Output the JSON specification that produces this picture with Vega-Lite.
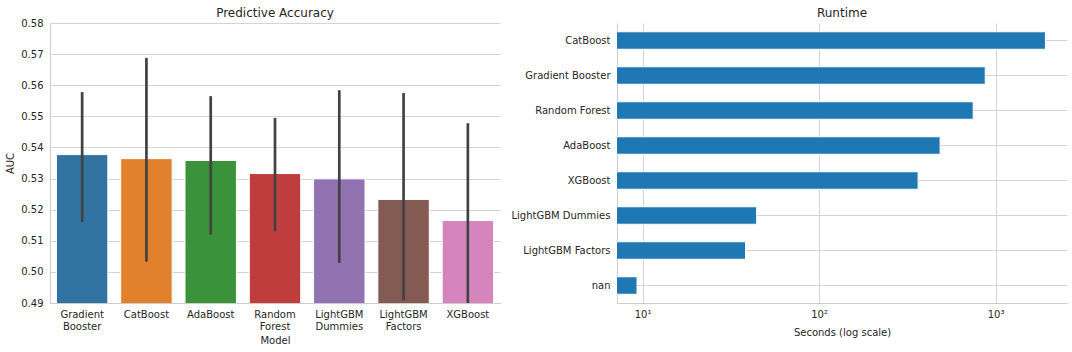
{
  "$schema": "https://vega.github.io/schema/vega-lite/v6.json",
  "background": "white",
  "padding": {"left": 5, "top": 7, "right": 5, "bottom": 2},
  "spacing": 10,
  "config": {
    "font": "DejaVu Sans",
    "view": {"stroke": null},
    "title": {"fontSize": 12, "fontWeight": "normal", "color": "#262626", "offset": 3},
    "axis": {
      "labelFont": "DejaVu Sans",
      "titleFont": "DejaVu Sans",
      "labelFontSize": 10,
      "titleFontSize": 10,
      "titleFontWeight": "normal",
      "labelColor": "#262626",
      "titleColor": "#262626",
      "domainColor": "#cccccc",
      "gridColor": "#d4d4d4",
      "ticks": false,
      "labelPadding": 7,
      "labelOverlap": false
    }
  },
  "datasets": {
    "auc": [
      {"model": "Gradient Booster", "auc": 0.5377, "lo": 0.516, "hi": 0.5578},
      {"model": "CatBoost", "auc": 0.5364, "lo": 0.5033, "hi": 0.5688},
      {"model": "AdaBoost", "auc": 0.5358, "lo": 0.512, "hi": 0.5565},
      {"model": "Random Forest", "auc": 0.5316, "lo": 0.513, "hi": 0.5495},
      {"model": "LightGBM Dummies", "auc": 0.5299, "lo": 0.5029, "hi": 0.5584},
      {"model": "LightGBM Factors", "auc": 0.5233, "lo": 0.4909, "hi": 0.5575},
      {"model": "XGBoost", "auc": 0.5165, "lo": 0.485, "hi": 0.5478}
    ],
    "runtime": [
      {"model": "CatBoost", "seconds": 1917},
      {"model": "Gradient Booster", "seconds": 874},
      {"model": "Random Forest", "seconds": 747},
      {"model": "AdaBoost", "seconds": 485},
      {"model": "XGBoost", "seconds": 364},
      {"model": "LightGBM Dummies", "seconds": 44.3},
      {"model": "LightGBM Factors", "seconds": 38.3},
      {"model": "nan", "seconds": 9.3}
    ]
  },
  "hconcat": [
    {
      "width": 450,
      "height": 280,
      "title": {"text": "Predictive Accuracy", "offset": -2},
      "data": {"name": "auc"},
      "layer": [
        {
          "mark": {"type": "bar", "stroke": "white", "strokeWidth": 1, "clip": true},
          "encoding": {
            "x": {
              "field": "model", "type": "nominal", "sort": null,
              "scale": {"paddingInner": 0.2, "paddingOuter": 0.1},
              "axis": {"title": "Model", "labelAngle": 0, "labelExpr": "split(datum.label, ' ')", "labelLineHeight": 12, "labelPadding": 6, "titlePadding": 4, "grid": false, "labelOverlap": false}
            },
            "y": {
              "field": "auc", "type": "quantitative",
              "scale": {"domain": [0.49, 0.58], "nice": false, "zero": false},
              "axis": {"title": "AUC", "tickCount": 20, "values": [0.49, 0.5, 0.51, 0.52, 0.53, 0.54, 0.55, 0.56, 0.57, 0.58], "format": ".2f", "grid": true, "titlePadding": 5, "labelOverlap": false, "labelFlush": false, "labelBound": false}
            },
            "y2": {"datum": 0.4},
            "color": {
              "field": "model", "type": "nominal", "sort": null, "legend": null,
              "scale": {
                "domain": ["Gradient Booster", "CatBoost", "AdaBoost", "Random Forest", "LightGBM Dummies", "LightGBM Factors", "XGBoost"],
                "range": ["#3274a1", "#e1812c", "#3a923a", "#c03d3e", "#9372b2", "#845b53", "#d684bd"]
              }
            }
          }
        },
        {
          "mark": {"type": "rule", "color": "#424242", "strokeWidth": 2.7, "clip": true},
          "encoding": {
            "x": {"field": "model", "type": "nominal", "sort": null},
            "y": {"field": "lo", "type": "quantitative"},
            "y2": {"field": "hi"}
          }
        }
      ]
    },
    {
      "width": 450,
      "height": 280,
      "title": {"text": "Runtime", "offset": 3},
      "data": {"name": "runtime"},
      "mark": {"type": "bar", "color": "#1f77b4", "stroke": "white", "strokeWidth": 1, "clip": true},
      "encoding": {
        "y": {
          "field": "model", "type": "nominal", "sort": null,
          "scale": {"paddingInner": 0.5, "paddingOuter": 0.25},
          "axis": {"title": null, "grid": true, "bandPosition": 0.5}
        },
        "x": {
          "field": "seconds", "type": "quantitative",
          "scale": {"type": "log", "domain": [7.16, 2540], "nice": false},
          "axis": {
            "title": "Seconds (log scale)", "grid": true,
            "values": [10, 100, 1000],
            "labelExpr": "datum.value == 10 ? '10¹' : datum.value == 100 ? '10²' : '10³'",
            "labelPadding": 6, "titlePadding": 8, "labelFlush": false
          }
        },
        "x2": {"datum": 1}
      }
    }
  ]
}
